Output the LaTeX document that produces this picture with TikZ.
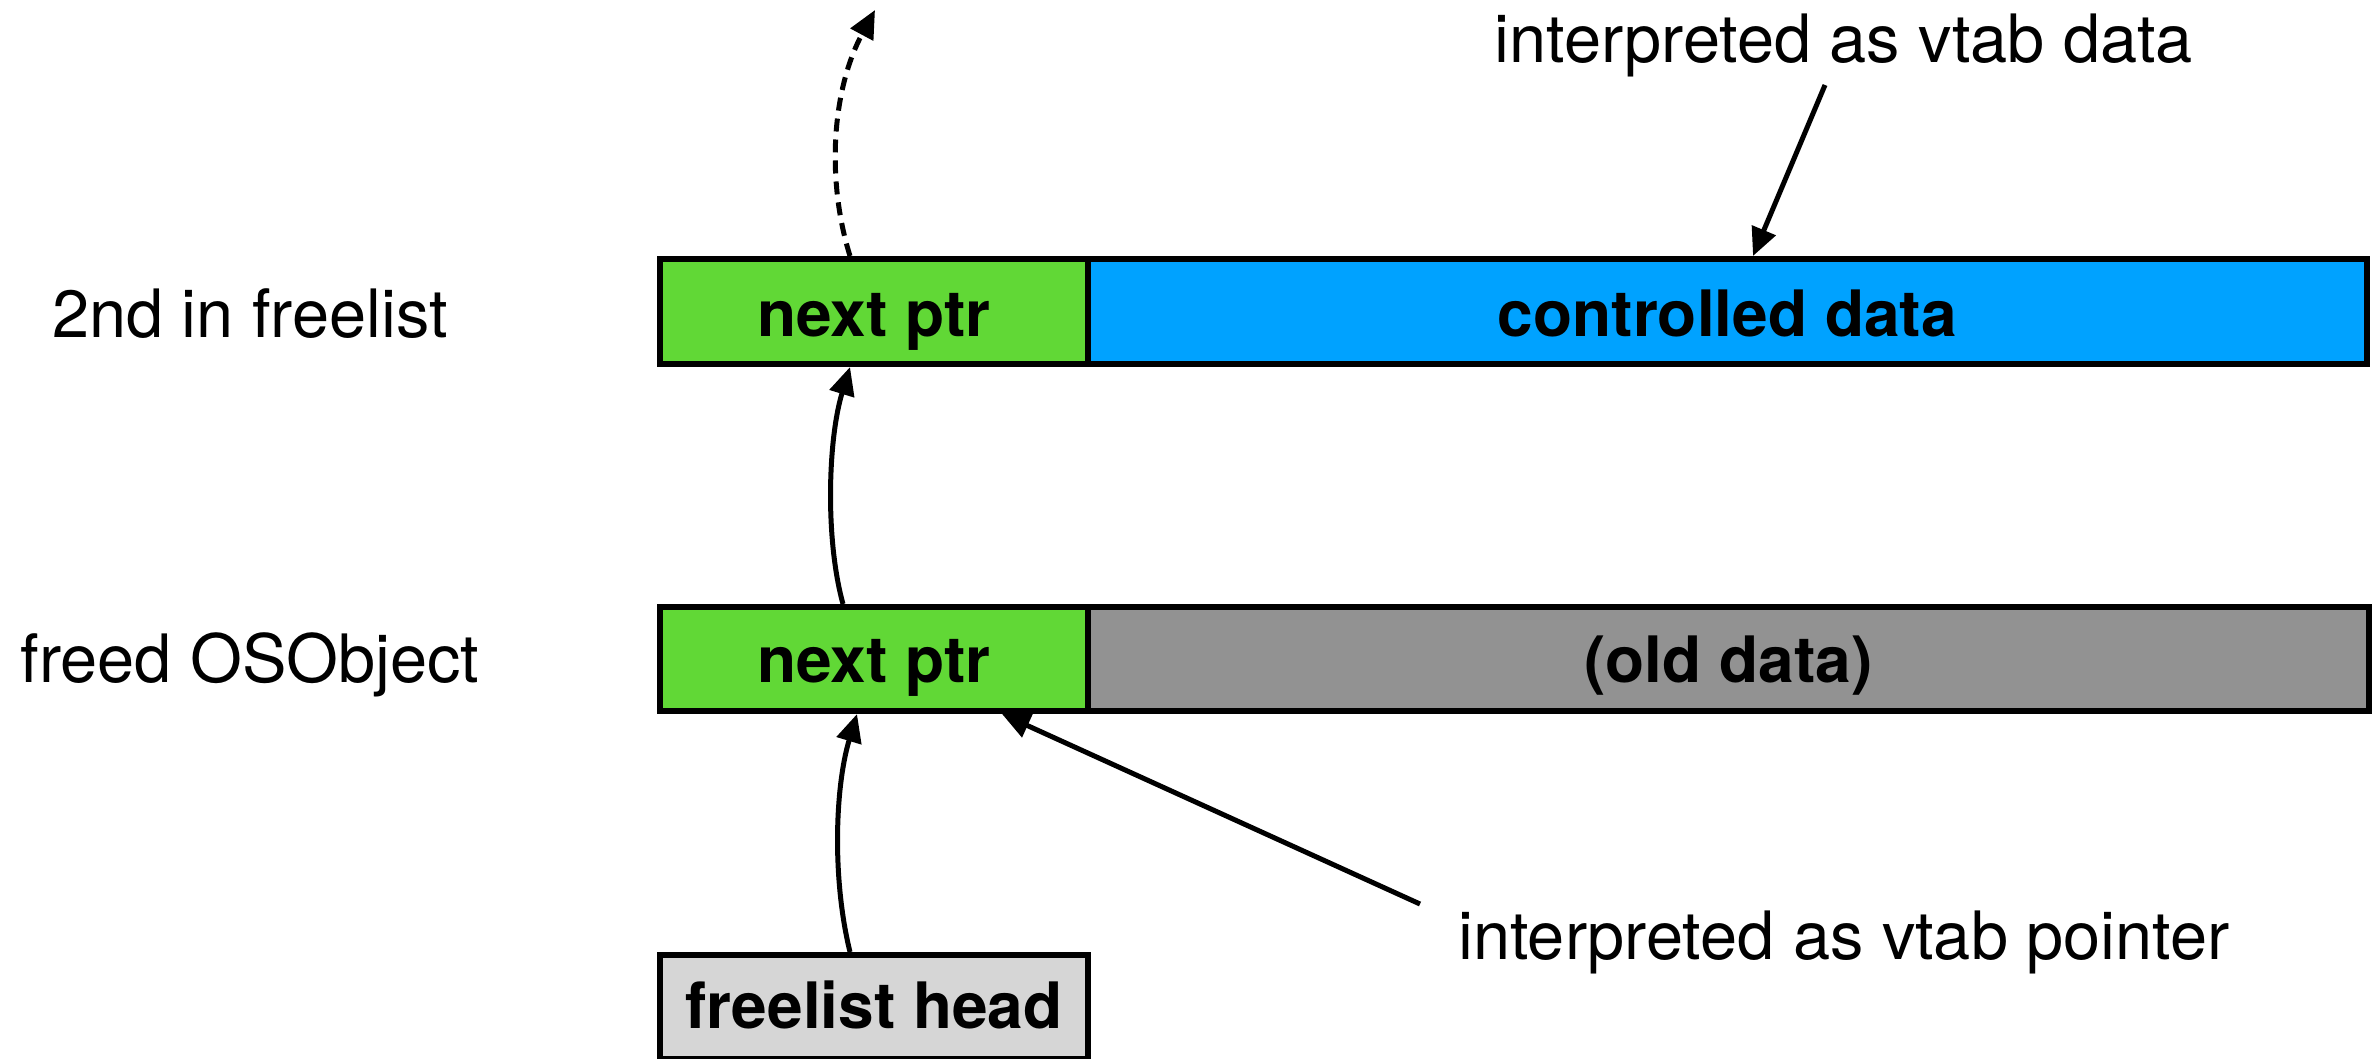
\documentclass[tikz,border=0pt]{standalone}
\usepackage{fontspec}
\setmainfont{TeX Gyre Heros}
\usetikzlibrary{arrows.meta,calc}
\definecolor{kgreen}{HTML}{61D836}
\definecolor{kblue}{HTML}{00A2FF}
\definecolor{kgray}{HTML}{929292}
\definecolor{klight}{HTML}{D6D6D6}
\tikzset{
  cell/.style={draw=black, line width=6pt, inner sep=0pt, minimum height=105pt,
    font=\fontsize{64pt}{76pt}\selectfont\bfseries, text depth=0pt},
  lbl/.style={inner sep=0pt, anchor=base, font=\fontsize{66.7pt}{80pt}\selectfont},
  arr/.style={line width=5pt, -{Triangle[length=28pt,width=25pt]}},
}
\begin{document}
\begin{tikzpicture}[x=1pt,y=-1pt]
\useasboundingbox (0,0) rectangle (2376,1058);
% top row
\node[cell, fill=kgreen, minimum width=428pt, text height=50pt] (g2) at (874,311.5) {next ptr};
\node[cell, fill=kblue, minimum width=1279pt, text height=50pt] (bl) at (1727.5,311.5) {controlled data};
% middle row
\node[cell, fill=kgreen, minimum width=428pt, minimum height=104pt, text height=47pt] (g1) at (874,659) {next ptr};
\node[cell, fill=kgray, minimum width=1281pt, minimum height=104pt, text height=47pt] (gr) at (1728.5,659) {(old data)};
% freelist head
\node[cell, fill=klight, minimum width=428pt, minimum height=104pt, text height=42pt] (fh) at (874,1007) {freelist head};
% labels
\node[lbl] (l2) at (250,337) {2nd in freelist};
\node[lbl] (l1) at (250,682) {freed OSObject};
\node[lbl] (ld) at (1844,62) {interpreted as vtab data};
\node[lbl] (lp) at (1844,959) {interpreted as vtab pointer};
% free ends
\coordinate (top) at (875,10);
\coordinate (ds) at (1825,85);
\coordinate (pe) at (1420,904);
% connectors
\draw[arr] ($(fh.north west)+(193,0)$) .. controls +(-18,-73) and +(-22,73) .. ($(g1.south west)+(200,0)$);
\draw[arr] ($(g1.north west)+(186,0)$) .. controls +(-18,-65) and +(-22,72) .. ($(g2.south west)+(193,0)$);
\draw[arr, dash pattern=on 13pt off 8pt] ($(g2.north west)+(193,0)$) .. controls +(-24,-77) and +(-43,80) .. (top);
\draw[arr] (ds) -- ($(bl.north west)+(668,0)$);
\draw[arr] (pe) -- ($(g1.south west)+(345,0)$);
\end{tikzpicture}
\end{document}
